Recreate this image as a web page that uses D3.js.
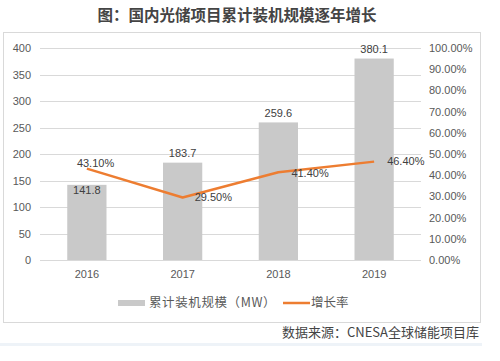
<!DOCTYPE html>
<html>
<head>
<meta charset="utf-8">
<script src="https://cdn.jsdelivr.net/npm/d3@7"></script>
<style>
  body { margin: 0; background: #fff; }
  svg { display: block; font-family: "Noto Sans CJK SC", "Microsoft YaHei", sans-serif; }
</style>
</head>
<body>
<script>
var years = ["2016", "2017", "2018", "2019"];
var capacity = [141.8, 183.7, 259.6, 380.1];
var growth = [43.1, 29.5, 41.4, 46.4];
var leftTicks = [0, 50, 100, 150, 200, 250, 300, 350, 400];
var rightTicks = [0, 10, 20, 30, 40, 50, 60, 70, 80, 90, 100];

var width = 500;
var height = 361;
var plotLeft = 39, plotRight = 422, plotTop = 48, plotBottom = 260;

var svg = d3.select("body")
  .append("svg")
  .attr("width", width)
  .attr("height", height);

svg.append("rect").attr("width", width).attr("height", height).attr("fill", "#fff");

// title
svg.append("text")
  .attr("x", 237)
  .attr("y", 21)
  .attr("text-anchor", "middle")
  .attr("font-size", 15.5)
  .attr("font-weight", "bold")
  .attr("fill", "#444")
  .text("图：国内光储项目累计装机规模逐年增长");

// chart frame
svg.append("rect")
  .attr("x", 3.5).attr("y", 32.5)
  .attr("width", 477).attr("height", 290)
  .attr("fill", "none")
  .attr("stroke", "#d9d9d9");

var x = d3.scaleBand().domain(years).range([plotLeft, plotRight]).paddingInner(0.59).paddingOuter(0.295);
var yL = d3.scaleLinear().domain([0, 400]).range([plotBottom, plotTop]);
var yR = d3.scaleLinear().domain([0, 100]).range([plotBottom, plotTop]);

// gridlines
svg.append("g").selectAll("line")
  .data(leftTicks)
  .enter()
  .append("line")
  .attr("x1", 40).attr("x2", 421)
  .attr("y1", function(d) { return Math.round(yL(d)) + 0.5; })
  .attr("y2", function(d) { return Math.round(yL(d)) + 0.5; })
  .attr("stroke", "#d9d9d9");

// left axis
var leftAxis = svg.append("g")
  .attr("transform", "translate(31,0)")
  .call(d3.axisLeft(yL).tickValues(leftTicks).tickSize(0).tickPadding(0));
leftAxis.select(".domain").remove();
leftAxis.selectAll("text").attr("font-size", 11).attr("fill", "#595959").attr("font-family", "Liberation Sans, Arial, sans-serif");

// right axis
var rightAxis = svg.append("g")
  .attr("transform", "translate(429,0)")
  .call(d3.axisRight(yR).tickValues(rightTicks).tickSize(0).tickPadding(0)
    .tickFormat(function(d) { return d.toFixed(2) + "%"; }));
rightAxis.select(".domain").remove();
rightAxis.selectAll("text").attr("font-size", 11).attr("fill", "#595959").attr("font-family", "Liberation Sans, Arial, sans-serif");

// x axis labels
var xAxis = svg.append("g")
  .attr("transform", "translate(0," + (plotBottom + 10) + ")")
  .call(d3.axisBottom(x).tickSize(0).tickPadding(0));
xAxis.select(".domain").remove();
xAxis.selectAll("text").attr("font-size", 11).attr("fill", "#595959").attr("font-family", "Liberation Sans, Arial, sans-serif");

// bars
svg.append("g").selectAll("rect")
  .data(capacity)
  .enter()
  .append("rect")
  .attr("x", function(d, i) { return x(years[i]); })
  .attr("y", function(d) { return yL(d); })
  .attr("width", x.bandwidth())
  .attr("height", function(d) { return plotBottom - yL(d); })
  .attr("fill", "#c9c9c9");

// bar labels
var barLabelDy = [5, -9, -9, -9];
svg.append("g").selectAll("text")
  .data(capacity)
  .enter()
  .append("text")
  .attr("x", function(d, i) { return x(years[i]) + x.bandwidth() / 2; })
  .attr("y", function(d, i) { return yL(d) + barLabelDy[i]; })
  .attr("dy", "0.35em")
  .attr("text-anchor", "middle")
  .attr("font-size", 11)
  .attr("fill", "#404040")
  .attr("font-family", "Liberation Sans, Arial, sans-serif")
  .text(function(d) { return d.toFixed(1); });

// growth line
var line = d3.line()
  .x(function(d, i) { return x(years[i]) + x.bandwidth() / 2; })
  .y(function(d) { return yR(d); });

svg.append("path")
  .datum(growth)
  .attr("d", line)
  .attr("fill", "none")
  .attr("stroke", "#ed7d31")
  .attr("stroke-width", 2.5)
  .attr("stroke-linejoin", "round");

var lineLabelDx = [-10, 12, 13, 13];
var lineLabelDy = [-5, 0, 1, 0];
svg.append("g").selectAll("text")
  .data(growth)
  .enter()
  .append("text")
  .attr("x", function(d, i) { return x(years[i]) + x.bandwidth() / 2 + lineLabelDx[i]; })
  .attr("y", function(d, i) { return yR(d) + lineLabelDy[i]; })
  .attr("dy", "0.35em")
  .attr("font-size", 11)
  .attr("fill", "#404040")
  .attr("font-family", "Liberation Sans, Arial, sans-serif")
  .text(function(d) { return d.toFixed(2) + "%"; });

// legend
var legend = svg.append("g").attr("font-size", 12.5).attr("fill", "#595959");
legend.append("rect").attr("x", 118).attr("y", 300).attr("width", 27).attr("height", 6).attr("fill", "#c9c9c9");
legend.append("text").attr("x", 149).attr("y", 303).attr("dy", "0.35em")
  .attr("letter-spacing", 0.6).attr("fill", "#595959").text("累计装机规模（MW）");
legend.append("line").attr("x1", 283).attr("x2", 310).attr("y1", 303).attr("y2", 303)
  .attr("stroke", "#ed7d31").attr("stroke-width", 2.5);
legend.append("text").attr("x", 311).attr("y", 303).attr("dy", "0.35em")
  .attr("fill", "#595959").text("增长率");

// source note
svg.append("text")
  .attr("x", 479)
  .attr("y", 332)
  .attr("dy", "0.35em")
  .attr("text-anchor", "end")
  .attr("font-size", 13)
  .attr("fill", "#444")
  .text("数据来源：CNESA全球储能项目库");

svg.append("rect").attr("x", 0).attr("y", 343).attr("width", 482).attr("height", 3).attr("fill", "#eef3f8");
</script>
</body>
</html>
